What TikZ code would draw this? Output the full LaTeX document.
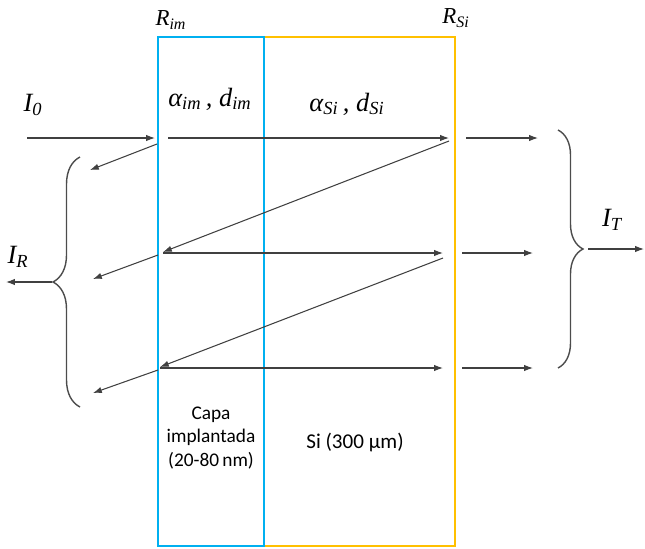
\documentclass[tikz,border=0pt]{standalone}
\usepackage{fontspec}
\setmainfont{Liberation Serif}
\newfontfamily\calibri{Carlito}
\usetikzlibrary{arrows.meta, decorations.pathreplacing}
\definecolor{azul}{HTML}{00B0F0}
\definecolor{ambar}{HTML}{FFC000}
\newcommand{\sym}[2]{#1\textsubscript{#2}}

\begin{document}
\begin{tikzpicture}[
    x=0.02cm, y=-0.02cm,
    layer/.style={line width=1.4pt},
    ray/.style={->, >={Latex[length=5pt,width=3.6pt]}, draw=black!75, line width=0.6pt},
    curly/.style={decorate, draw=black!70, line width=0.8pt, decoration={brace, amplitude=#1}},
    symb/.style={font=\fontsize{15}{18}\selectfont\itshape, inner sep=0pt},
    rlabel/.style={font=\fontsize{13}{16}\selectfont\itshape, inner sep=0pt},
    capa/.style={font=\calibri\fontsize{11}{13.5}\selectfont, align=center, inner sep=0pt}
]
\useasboundingbox (0,0) rectangle (645,548);

% Capas
\draw[layer, draw=ambar] (264,37) rectangle (455,546);
\draw[layer, draw=azul] (158,37) rectangle (264,546);

% Etiquetas
\node[rlabel] (rim) at (171,20) {\sym{R}{im}};
\node[rlabel] (rsi) at (456,18) {\sym{R}{Si}};
\node[symb] (aim) at (210,99) {\sym{α}{im}\,, \sym{d}{im}};
\node[symb] (asi) at (347,104) {\sym{α}{Si}\,, \sym{d}{Si}};
\node[symb] (i0) at (33,105) {\sym{I}{0}};
\node[symb] (ir) at (18,257) {\sym{I}{R}};
\node[symb] (it) at (612,220) {\sym{I}{T}};
\node[capa] (imp) at (211,438) {Capa\\implantada\\(20-80\,nm)};
\node[capa, font=\calibri\fontsize{12}{14}\selectfont] (si) at (355,442) {Si (300 μm)};

% Puntos de los rayos
\coordinate (in0) at (27,138);  \coordinate (in1) at (155,138);
\coordinate (a0) at (168,138);  \coordinate (a1) at (449,138);
\coordinate (r0) at (157,144);  \coordinate (r1) at (90,170);
\coordinate (t0) at (466,138);  \coordinate (t1) at (538,138);
\coordinate (d0) at (449,141);  \coordinate (d1) at (163,252);
\coordinate (b0) at (163,253);  \coordinate (b1) at (443,253);
\coordinate (r2) at (158,255);  \coordinate (r3) at (93,279);
\coordinate (t2) at (462,253);  \coordinate (t3) at (533,253);
\coordinate (d2) at (443,258);  \coordinate (d3) at (160,367);
\coordinate (c0) at (160,368);  \coordinate (c1) at (443,368);
\coordinate (r4) at (158,370);  \coordinate (r5) at (93,393);
\coordinate (t4) at (462,368);  \coordinate (t5) at (533,368);

% Rayos
\draw[ray] (in0) -- (in1);
\draw[ray] (a0) -- (a1);
\draw[ray] (r0) -- (r1);
\draw[ray] (t0) -- (t1);
\draw[ray] (d0) -- (d1);
\draw[ray] (b0) -- (b1);
\draw[ray] (r2) -- (r3);
\draw[ray] (t2) -- (t3);
\draw[ray] (d2) -- (d3);
\draw[ray] (c0) -- (c1);
\draw[ray] (r4) -- (r5);
\draw[ray] (t4) -- (t5);

% Llaves
\coordinate (lb0) at (80,407);  \coordinate (lb1) at (80,157);
\coordinate (rb0) at (558,130); \coordinate (rb1) at (558,368);
\draw[curly=0.54cm] (lb0) -- (lb1);
\draw[curly=0.5cm] (rb0) -- (rb1);

% Salidas
\coordinate (ir0) at (52,282);  \coordinate (ir1) at (6,282);
\coordinate (it0) at (588,249); \coordinate (it1) at (644,249);
\draw[ray] (ir0) -- (ir1);
\draw[ray] (it0) -- (it1);

\end{tikzpicture}
\end{document}
